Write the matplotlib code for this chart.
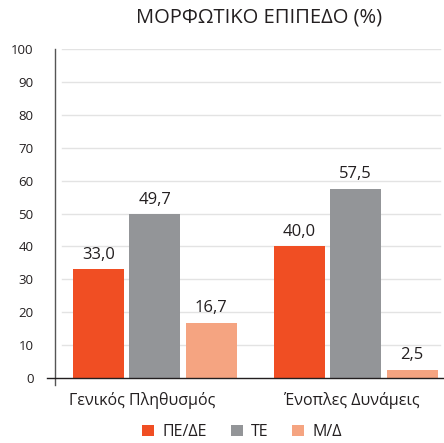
import numpy as np
import matplotlib
matplotlib.use("Agg")
import matplotlib.pyplot as plt
from matplotlib.lines import Line2D

plt.rcParams['font.family'] = ['Open Sans', 'DejaVu Sans']

# data
categories = ['Γενικός Πληθυσμός', 'Ένοπλες Δυνάμεις']
series_names = ['ΠΕ/ΔΕ', 'ΤΕ', 'Μ/Δ']
pe_de = [33.0, 40.0]
te = [49.7, 57.5]
m_d = [16.7, 2.5]
yticks = [0, 10, 20, 30, 40, 50, 60, 70, 80, 90, 100]
title = 'ΜΟΡΦΩΤΙΚΟ ΕΠΙΠΕΔΟ (%)'

COLORS = ['#F04E23', '#939598', '#F5A481']
TEXT = '#231F20'

W, H = 444, 443
fig = plt.figure(figsize=(W / 100, H / 100), dpi=100)
# axes placed in pixel coords: left spine x=54.5, y=0 at 378px, y=100 at 49px
ax = fig.add_axes([54.5 / W, (H - 384.6) / H, (W - 54.5) / W, (384.6 - 49) / H])
ax.set_ylim(-2, 100)
ax.set_xlim(-0.4985, 1.439)

x = np.arange(len(categories))
width = 0.254
offset = 0.281
for i, (vals, name) in enumerate(zip([pe_de, te, m_d], series_names)):
    pos = x + (i - 1) * offset
    bars = ax.bar(pos, vals, width, color=COLORS[i], label=name, zorder=3)
    for b, v in zip(bars, vals):
        ax.text(b.get_x() + b.get_width() / 2, v + 2.0, f'{v:.1f}'.replace('.', ','),
                ha='center', va='bottom', fontsize=12, color=TEXT)

# light gridlines, starting a bit right of the spine
for t in yticks[1:]:
    ax.plot([0.02, 0.99], [t, t], transform=ax.get_yaxis_transform(),
            color='#E3E3E3', lw=1.0, zorder=1)

# baseline extending left of the spine
fig.add_artist(Line2D([47 / W, 1], [(H - 378) / H] * 2, color=TEXT, lw=1.0))

for s in ['top', 'right', 'bottom']:
    ax.spines[s].set_visible(False)
ax.spines['left'].set_color('#555555')
ax.spines['left'].set_linewidth(1.0)

ax.set_yticks(yticks)
ax.tick_params(axis='y', length=0, pad=15, labelsize=9.5, labelcolor=TEXT)
# category labels sit slightly left of the group centres in the reference
ax.set_xticks(x - np.array([0.06, 0.02]))
ax.set_xticklabels(categories)
ax.tick_params(axis='x', length=0, pad=5, labelsize=11.5, labelcolor=TEXT)

fig.text(259 / W, 1 - 18 / H, title, ha='center', va='center', fontsize=14.5, color=TEXT)

leg = fig.legend(loc='center', bbox_to_anchor=(242 / W, 11 / H), ncol=3, frameon=False,
                 fontsize=11.5, handlelength=0.75, handleheight=0.75, handletextpad=0.5,
                 columnspacing=1.5)
for t in leg.get_texts():
    t.set_color(TEXT)

fig.savefig('out.png', dpi=100)
